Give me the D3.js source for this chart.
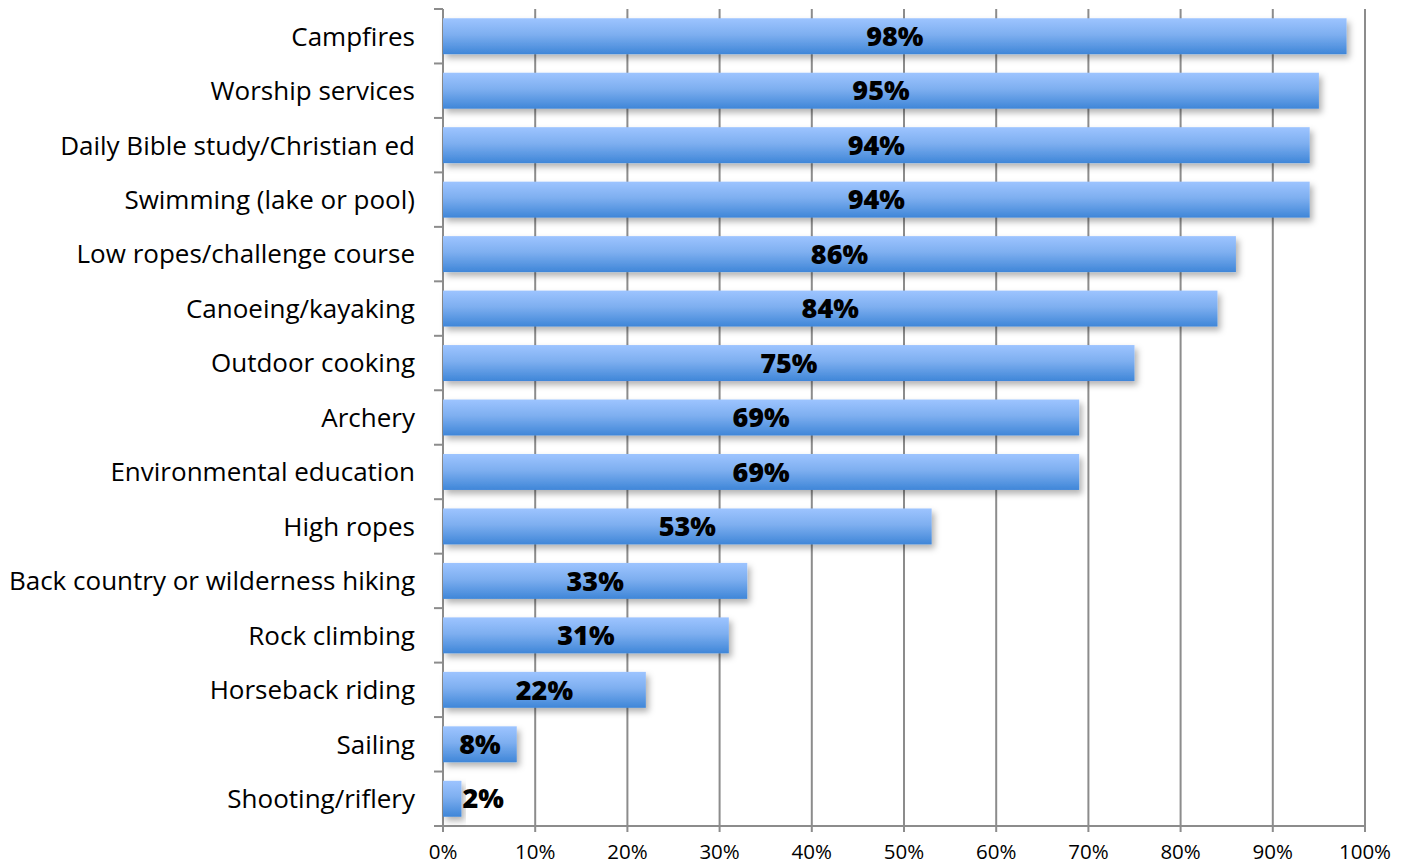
<!DOCTYPE html>
<html><head><meta charset="utf-8">
<script src="https://cdn.jsdelivr.net/npm/d3@7"></script>
<style>body{margin:0;background:#fff;} svg{display:block;}</style>
</head><body>
<svg id="chart" width="1408" height="865"></svg>
<script>
const categories = ["Campfires","Worship services","Daily Bible study/Christian ed","Swimming (lake or pool)","Low ropes/challenge course","Canoeing/kayaking","Outdoor cooking","Archery","Environmental education","High ropes","Back country or wilderness hiking","Rock climbing","Horseback riding","Sailing","Shooting/riflery"];
const values = [98,95,94,94,86,84,75,69,69,53,33,31,22,8,2];
const tickValues = [0,10,20,30,40,50,60,70,80,90,100];

const svg = d3.select("#chart");
const m = {left:443, right:1365, top:9, bottom:826};
const x = d3.scaleLinear().domain([0,100]).range([m.left, m.right]);
const y = d3.scaleBand().domain(categories).range([m.top, m.bottom]).paddingInner(0.34).paddingOuter(0.17);
const font = "'Open Sans', Lato, sans-serif";

const defs = svg.append("defs");
const g = defs.append("linearGradient").attr("id","barGrad").attr("x1",0).attr("y1",0).attr("x2",0).attr("y2",1);
g.append("stop").attr("offset","0%").attr("stop-color","#9dc4ff");
g.append("stop").attr("offset","45%").attr("stop-color","#7eaff0");
g.append("stop").attr("offset","100%").attr("stop-color","#3f86d8");
const f = defs.append("filter").attr("id","shadow").attr("x","-10%").attr("y","-20%").attr("width","130%").attr("height","160%");
f.append("feDropShadow").attr("dx",3).attr("dy",4).attr("stdDeviation",3).attr("flood-color","#000").attr("flood-opacity",0.3);

svg.append("g").selectAll("line").data(tickValues).join("line")
  .attr("x1",d=>x(d)).attr("x2",d=>x(d)).attr("y1",m.top).attr("y2",m.bottom+6)
  .attr("stroke","#8c8c8c").attr("stroke-width",2);

svg.append("line").attr("x1",m.left).attr("x2",m.left).attr("y1",m.top).attr("y2",m.bottom)
  .attr("stroke","#8c8c8c").attr("stroke-width",2);
const tickYs = d3.range(categories.length+1).map(i => m.top + i*(m.bottom-m.top)/categories.length);
svg.append("g").selectAll("line").data(tickYs).join("line")
  .attr("x1",m.left-9).attr("x2",m.left).attr("y1",d=>d).attr("y2",d=>d)
  .attr("stroke","#8c8c8c").attr("stroke-width",2);
svg.append("line").attr("x1",m.left-9).attr("x2",m.right).attr("y1",m.bottom).attr("y2",m.bottom)
  .attr("stroke","#8c8c8c").attr("stroke-width",2);

svg.append("g").selectAll("rect").data(values).join("rect")
  .attr("x",x(0)).attr("y",(d,i)=>y(categories[i]))
  .attr("width",d=>x(d)-x(0)).attr("height",y.bandwidth())
  .attr("fill","url(#barGrad)").attr("filter","url(#shadow)");

svg.append("g").selectAll("text").data(values).join("text")
  .attr("x",d=> (x(d)-x(0) < 60) ? x(d)+1 : (x(0)+x(d))/2)
  .attr("text-anchor",d=> (x(d)-x(0) < 60) ? "start" : "middle")
  .attr("y",(d,i)=>y(categories[i])+y.bandwidth()/2)
  .attr("dy","0.36em")
  .attr("font-family",font).attr("font-weight","800").attr("font-size",27).attr("fill","#000")
  .text(d=>d+"%");

svg.append("g").selectAll("text").data(categories).join("text")
  .attr("x",m.left-28).attr("y",d=>y(d)+y.bandwidth()/2)
  .attr("dy","0.36em").attr("text-anchor","end")
  .attr("font-family",font).attr("font-size",26).attr("fill","#000")
  .text(d=>d);

svg.append("g").selectAll("text").data(tickValues).join("text")
  .attr("x",d=>x(d)).attr("y",m.bottom+33).attr("text-anchor","middle")
  .attr("font-family",font).attr("font-size",20.5).attr("fill","#000")
  .text(d=>d+"%");
</script>
</body></html>
